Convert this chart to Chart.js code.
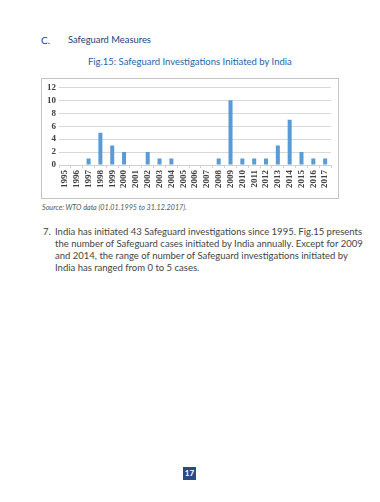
<!DOCTYPE html>
<html>
<head>
<meta charset="utf-8">
<script src="https://cdn.jsdelivr.net/npm/chart.js@4.4.0/dist/chart.umd.min.js"></script>
<style>
  html, body { margin: 0; padding: 0; background: #ffffff; }
  body { width: 380px; height: 502px; position: relative; overflow: hidden; font-family: Lato, "Noto Sans", sans-serif; }
  .abs { position: absolute; white-space: nowrap; }
  #heading-c { left: 41px; top: 34px; font-size: 10px; color: #24407a; }
  #heading { left: 68px; top: 34px; font-size: 10px; color: #24407a; }
  #title { left: 88px; top: 56px; font-size: 10px; color: #1f63a8; }
  #box { position: absolute; left: 41px; top: 78px; width: 298px; height: 121px; border: 1px solid #c4c4c4; box-sizing: border-box; }
  #box canvas { display: block; }
  #source { left: 42px; top: 203px; font-size: 7.5px; font-style: italic; color: #555; }
  #num { left: 43px; top: 226px; font-size: 9.5px; color: #444; }
  .pline { position: absolute; left: 55px; width: 288px; font-size: 9.5px; color: #444; white-space: nowrap; text-align: justify; text-align-last: justify; }
  .pline.last { text-align: left; text-align-last: left; }
  #page { position: absolute; left: 183px; top: 467px; width: 13px; height: 13px; background: #2a4a84; color: #fff; font-size: 8px; font-weight: bold; text-align: center; line-height: 13px; }
</style>
</head>
<body>
<div class="abs" id="heading-c">C.</div>
<div class="abs" id="heading">Safeguard Measures</div>
<div class="abs" id="title">Fig.15: Safeguard Investigations Initiated by India</div>
<div id="box"><canvas id="c" width="296" height="119"></canvas></div>
<div class="abs" id="source">Source: WTO data (01.01.1995 to 31.12.2017).</div>
<div class="abs" id="num">7.</div>
<div class="pline" style="top:226px">India has initiated 43 Safeguard investigations since 1995. Fig.15 presents</div>
<div class="pline" style="top:238px">the number of Safeguard cases initiated by India annually. Except for 2009</div>
<div class="pline" style="top:250px">and 2014, the range of number of Safeguard investigations initiated by</div>
<div class="pline last" style="top:262px">India has ranged from 0 to 5 cases.</div>
<div id="page">17</div>
<script>
// ---- data ----
const years = ["1995","1996","1997","1998","1999","2000","2001","2002","2003","2004","2005","2006","2007","2008","2009","2010","2011","2012","2013","2014","2015","2016","2017"];
const investigations = [0,0,1,5,3,2,0,2,1,1,0,0,0,1,10,1,1,1,3,7,2,1,1];
const yTicks = [0,2,4,6,8,10,12];

// fit header texts to measured widths
function fitWidth(id, target) {
  const el = document.getElementById(id);
  const fs = parseFloat(getComputedStyle(el).fontSize);
  const w = el.getBoundingClientRect().width;
  if (w > 0) el.style.fontSize = (fs * target / w).toFixed(2) + 'px';
}
fitWidth('heading', 83);
fitWidth('title', 204);
fitWidth('source', 145);

const tickFont = { family: '"Liberation Serif", "DejaVu Serif", serif', size: 9, weight: 'bold' };

new Chart(document.getElementById('c'), {
  type: 'bar',
  data: {
    labels: years,
    datasets: [{
      data: investigations,
      backgroundColor: '#5b9bd5',
      borderWidth: 0,
      barPercentage: 0.34,
      categoryPercentage: 1.0
    }]
  },
  options: {
    responsive: false,
    animation: false,
    devicePixelRatio: 1,
    layout: { padding: { top: 6, right: 2, left: 0, bottom: 0 } },
    plugins: { legend: { display: false }, tooltip: { enabled: false } },
    scales: {
      x: {
        offset: true,
        grid: { display: true, drawOnChartArea: false, drawTicks: true, tickLength: 3, color: '#d0d0d0', offset: true },
        border: { display: true, color: '#d0d0d0' },
        ticks: { color: '#404040', font: tickFont, minRotation: 90, maxRotation: 90, padding: 2, autoSkip: false },
        afterFit: s => { s.height = 33; }
      },
      y: {
        min: 0, max: 12,
        afterBuildTicks: s => { s.ticks = yTicks.map(v => ({ value: v })); },
        grid: { color: '#d9d9d9', drawTicks: false },
        border: { display: false },
        ticks: { color: '#404040', font: tickFont, padding: 3, autoSkip: false },
        afterFit: s => { s.width = 17; }
      }
    }
  }
});
</script>
</body>
</html>
